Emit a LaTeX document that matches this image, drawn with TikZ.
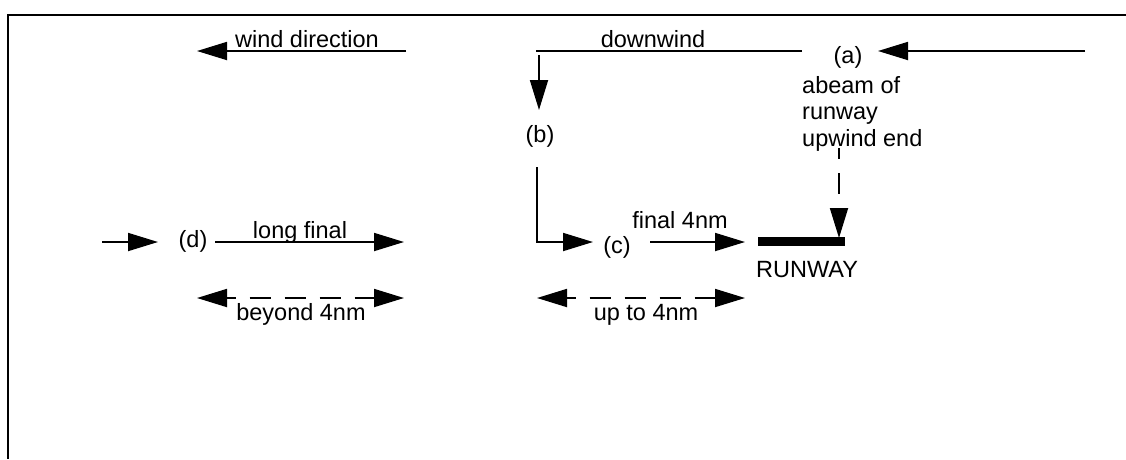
\documentclass[tikz,border=0pt]{standalone}
\usepackage{fontspec}
\setmainfont{Liberation Sans}
\usetikzlibrary{arrows.meta}
\begin{document}
\begin{tikzpicture}[x=1pt,y=-1pt,
  lbl/.style={inner sep=0pt, anchor=base, font=\fontsize{23.5}{26.5}\selectfont},
  ln/.style={line width=1.8pt},
  tip/.tip={Triangle[length=30pt,width=18pt]},
  arr/.style={ln,-tip},
  darr/.style={ln,tip-tip,dash pattern=on 21pt off 14pt},
  ]
\useasboundingbox (0,0) rectangle (1126,459);
% frame
\coordinate (fr1) at (1126,15);
\coordinate (fr2) at (8,15);
\coordinate (fr3) at (8,459);
\draw[ln] (fr1) -- (fr2) -- (fr3);

% labels
\node[lbl] (wind) at (307,47) {wind direction};
\node[lbl] (dw) at (653,47) {downwind};
\node[lbl] (a) at (848,63) {(a)};
\node[lbl, anchor=north west, align=left] (abeam) at (802,76) {abeam of\\runway\\upwind end};
\node[lbl] (b) at (540,142) {(b)};
\node[lbl] (c) at (617,253) {(c)};
\node[lbl] (d) at (193,247) {(d)};
\node[lbl] (fin) at (680,228) {final 4nm};
\node[lbl] (lf) at (300,238) {long final};
\node[lbl] (rw) at (807,277) {RUNWAY};
\node[lbl] (ut) at (646,320) {up to 4nm};
\node[lbl] (bey) at (301,320) {beyond 4nm};

% coordinates
\coordinate (w1) at (406,51);
\coordinate (w2) at (197,51);
\coordinate (dw1) at (802,51);
\coordinate (dw2) at (536,51);
\coordinate (down1) at (539,55);
\coordinate (down2) at (539,110);
\coordinate (ain1) at (1085,51);
\coordinate (ain2) at (878,51);
\coordinate (ab1) at (839,148);
\coordinate (ab2) at (839,238);
\coordinate (rw1) at (758,241);
\coordinate (rw2) at (845,241);
\coordinate (bc1) at (537,167);
\coordinate (bc2) at (537,242);
\coordinate (bc3) at (593,242);
\coordinate (f1) at (650,242);
\coordinate (f2) at (745,242);
\coordinate (din1) at (102,242);
\coordinate (din2) at (158,242);
\coordinate (lf1) at (215,242);
\coordinate (lf2) at (404,242);
\coordinate (u1) at (537,298);
\coordinate (u2) at (745,298);
\coordinate (be1) at (197,298);
\coordinate (be2) at (404,298);

% connectors
\draw[arr] (w1) -- (w2);
\draw[ln] (dw1) -- (dw2);
\draw[arr] (down1) -- (down2);
\draw[arr] (ain1) -- (ain2);
\draw[ln,-tip,dash pattern=on 21pt off 14pt,dash phase=10pt] (ab1) -- (ab2);
\draw[line width=9pt] (rw1) -- (rw2);
\draw[arr] (bc1) -- (bc2) -- (bc3);
\draw[arr] (f1) -- (f2);
\draw[arr] (din1) -- (din2);
\draw[arr] (lf1) -- (lf2);
\draw[darr,dash phase=12pt] (u1) -- (u2);
\draw[darr,dash phase=12pt] (be1) -- (be2);
\end{tikzpicture}
\end{document}
